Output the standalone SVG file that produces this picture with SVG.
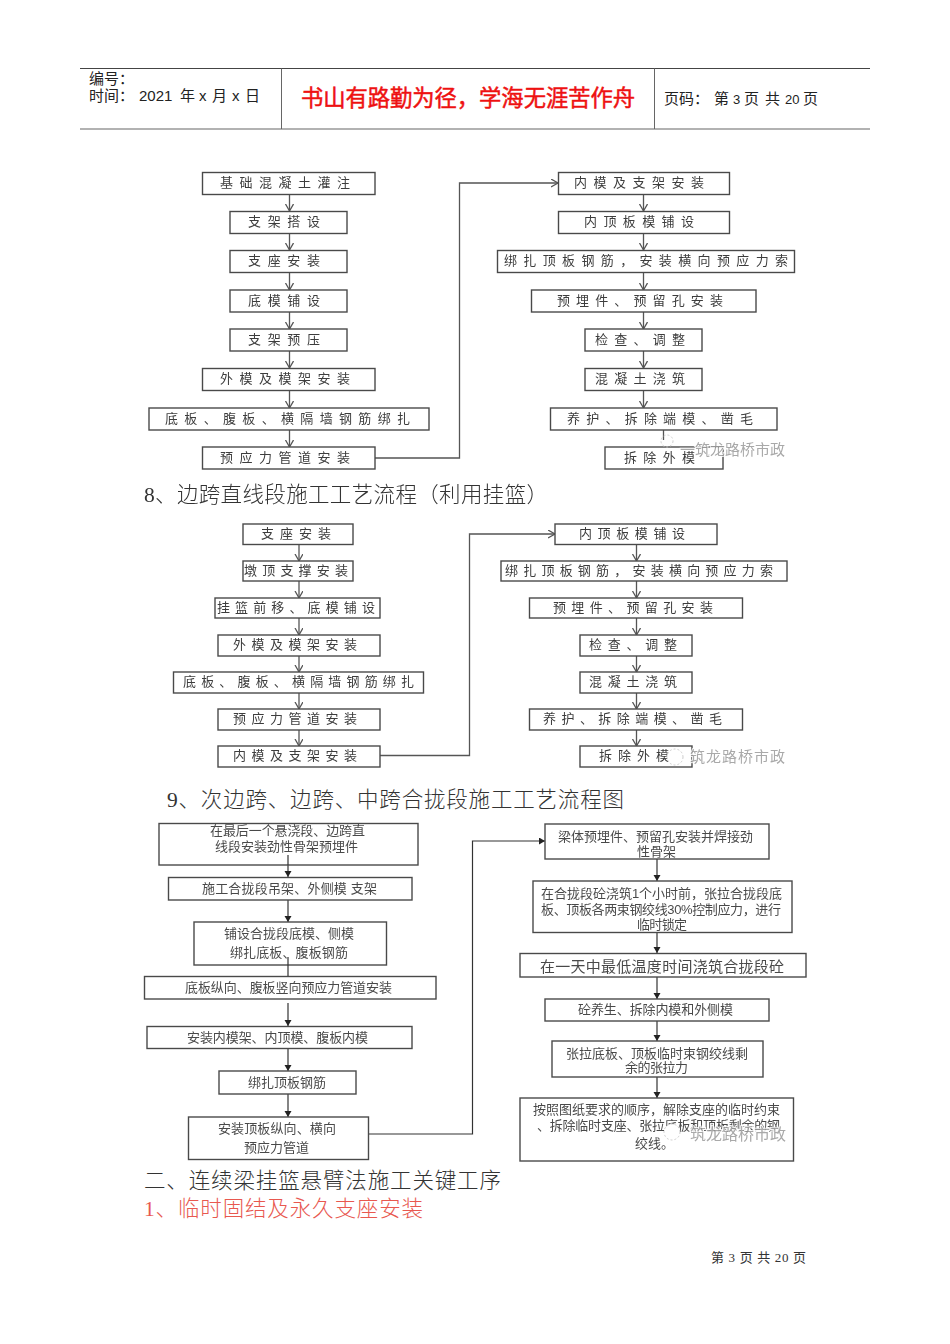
<svg xmlns="http://www.w3.org/2000/svg" width="950" height="1344" viewBox="0 0 950 1344">
<style>
text{font-family:"Liberation Sans","Noto Sans CJK SC",sans-serif}
.b{fill:#fff;stroke:#4a4a4a;stroke-width:1.4}
.t{font-size:13px;fill:#3c3c3c;dominant-baseline:central;transform:translateY(-1px)}
.t3{font-size:13px;fill:#4a4a4a;dominant-baseline:central;transform:translateY(-1px)}
.c{fill:none;stroke:#555;stroke-width:1.3}
.d{fill:none;stroke:#333;stroke-width:1.2}
.h{font-family:"Liberation Serif","Noto Sans CJK SC",serif;font-size:21.5px;fill:#333;font-weight:300}
.hd{font-size:15px;fill:#222}
.wm{fill:#9a9a9a;font-size:15px;stroke:#fff;stroke-width:2px;paint-order:stroke;opacity:.85}
</style>
<defs>
<marker id="open" markerWidth="10" markerHeight="10" refX="7" refY="4" orient="auto" markerUnits="userSpaceOnUse"><path d="M0 0L7 4L0 8" fill="none" stroke="#555" stroke-width="1.3"/></marker>
<marker id="fill" markerWidth="8" markerHeight="8" refX="6" refY="3.5" orient="auto" markerUnits="userSpaceOnUse"><path d="M0 0L6 3.5L0 7Z" fill="#222"/></marker>
<filter id="soft" x="-2%" y="-2%" width="104%" height="104%"><feGaussianBlur stdDeviation="0.3"/></filter>
</defs>
<rect width="950" height="1344" fill="#fff"/>

<g id="header">
<path d="M80 68.500H870" stroke="#444" stroke-width="1"/>
<path d="M80 129H870" stroke="#999" stroke-width="1.5"/>
<path d="M281.500 68.500V129M654.500 68.500V129" stroke="#666" stroke-width="1"/>
<text class="hd" x="89" y="84">编号：</text>
<text class="hd" y="101"><tspan x="89">时间：</tspan><tspan x="139">2021</tspan><tspan x="180">年</tspan><tspan x="199">x</tspan><tspan x="212">月</tspan><tspan x="232">x</tspan><tspan x="245">日</tspan></text>
<text x="301" y="106" font-size="22.300" fill="#ee1111" stroke="#ee1111" stroke-width=".5" textLength="334">书山有路勤为径，学海无涯苦作舟</text>
<text class="hd" y="104"><tspan x="664">页码：</tspan><tspan x="714">第</tspan><tspan x="733" font-size="13">3</tspan><tspan x="744">页</tspan><tspan x="765">共</tspan><tspan x="785" font-size="13">20</tspan><tspan x="803">页</tspan></text>
</g>

<g id="connectors" filter="url(#soft)">
<path class="c" marker-end="url(#open)" d="M289.500 194V211"/><path class="c" marker-end="url(#open)" d="M289.500 233V250"/><path class="c" marker-end="url(#open)" d="M289.500 272V290"/><path class="c" marker-end="url(#open)" d="M289.500 312V329"/><path class="c" marker-end="url(#open)" d="M289.500 351V368"/><path class="c" marker-end="url(#open)" d="M289.500 390V408"/><path class="c" marker-end="url(#open)" d="M289.500 430V447"/>
<path class="c" marker-end="url(#open)" d="M375 458H459.500V183H558"/>
<path class="c" marker-end="url(#open)" d="M643.500 194V211"/><path class="c" marker-end="url(#open)" d="M643.500 233V250"/><path class="c" marker-end="url(#open)" d="M643.500 272V290"/><path class="c" marker-end="url(#open)" d="M643.500 312V329"/><path class="c" marker-end="url(#open)" d="M643.500 351V368"/><path class="c" marker-end="url(#open)" d="M643.500 390V408"/><path class="c" d="M663.500 430V440"/>
<path class="c" marker-end="url(#open)" d="M299 544.500V561"/><path class="c" marker-end="url(#open)" d="M299 581V598"/><path class="c" marker-end="url(#open)" d="M299 618V635"/><path class="c" marker-end="url(#open)" d="M299 656V672"/><path class="c" marker-end="url(#open)" d="M299 693V709"/><path class="c" marker-end="url(#open)" d="M299 730V746"/>
<path class="c" marker-end="url(#open)" d="M380 755.500H469.500V534H555"/>
<path class="c" marker-end="url(#open)" d="M636.500 544V561"/><path class="c" marker-end="url(#open)" d="M636.500 581V598"/><path class="c" marker-end="url(#open)" d="M636.500 618V635"/><path class="c" marker-end="url(#open)" d="M636.500 656V672"/><path class="c" marker-end="url(#open)" d="M636.500 693V709"/><path class="c" marker-end="url(#open)" d="M636.500 730V746"/>
<path class="d" marker-end="url(#fill)" d="M288 865V877"/><path class="d" marker-end="url(#fill)" d="M288 900V922"/><path class="d" marker-end="url(#fill)" d="M288 1003V1026"/><path class="d" marker-end="url(#fill)" d="M288 1048V1071"/><path class="d" marker-end="url(#fill)" d="M288 1094V1117"/>
<path class="d" marker-end="url(#fill)" d="M368 1134H472.500V841H545"/>
<path class="d" marker-end="url(#fill)" d="M657 859V881"/><path class="d" marker-end="url(#fill)" d="M657 932V953"/><path class="d" marker-end="url(#fill)" d="M657 977V999"/><path class="d" marker-end="url(#fill)" d="M657 1021V1041"/><path class="d" marker-end="url(#fill)" d="M657 1077V1098"/>
</g>

<g id="flow1" filter="url(#soft)">
<g id="a1"><rect class="b" x="202.500" y="172.500" width="172.500" height="22"/><text class="t" x="220" y="183" textLength="130">基础混凝土灌注</text></g>
<g id="a2"><rect class="b" x="230" y="211.500" width="117" height="22"/><text class="t" x="248" y="222" textLength="72">支架搭设</text></g>
<g id="a3"><rect class="b" x="230" y="250.500" width="117" height="22"/><text class="t" x="248" y="261" textLength="72">支座安装</text></g>
<g id="a4"><rect class="b" x="230" y="290" width="117" height="22"/><text class="t" x="248" y="301" textLength="72">底模铺设</text></g>
<g id="a5"><rect class="b" x="230" y="329" width="117" height="22"/><text class="t" x="248" y="340" textLength="72">支架预压</text></g>
<g id="a6"><rect class="b" x="202.500" y="368.500" width="172.500" height="22"/><text class="t" x="220" y="379" textLength="130">外模及模架安装</text></g>
<g id="a7"><rect class="b" x="149" y="408" width="280" height="22"/><text class="t" x="165" y="419" textLength="245">底板、腹板、横隔墙钢筋绑扎</text></g>
<g id="a8"><rect class="b" x="202.500" y="447" width="172.500" height="22"/><text class="t" x="220" y="458" textLength="130">预应力管道安装</text></g>
<g id="b1"><rect class="b" x="558.500" y="172.500" width="171" height="22"/><text class="t" x="574" y="183" textLength="130">内模及支架安装</text></g>
<g id="b2"><rect class="b" x="558.500" y="211.500" width="171" height="22"/><text class="t" x="584" y="222" textLength="110">内顶板模铺设</text></g>
<g id="b3"><rect class="b" x="497.500" y="250.500" width="297" height="22"/><text class="t" x="504" y="261" textLength="284">绑扎顶板钢筋，安装横向预应力索</text></g>
<g id="b4"><rect class="b" x="531.500" y="290" width="224.500" height="22"/><text class="t" x="557" y="301" textLength="166">预埋件、预留孔安装</text></g>
<g id="b5"><rect class="b" x="585" y="329" width="117" height="22"/><text class="t" x="595" y="340" textLength="90">检查、调整</text></g>
<g id="b6"><rect class="b" x="585" y="368.500" width="117" height="22"/><text class="t" x="595" y="379" textLength="90">混凝土浇筑</text></g>
<g id="b7"><rect class="b" x="550.500" y="408" width="226.500" height="22"/><text class="t" x="567" y="419" textLength="186">养护、拆除端模、凿毛</text></g>
<g id="b8"><rect class="b" x="605" y="447" width="118" height="22"/><text class="t" x="624" y="458" textLength="71">拆除外模</text></g>
</g>
<text id="wm1" class="wm" x="680" y="455" textLength="105">一筑龙路桥市政</text>
<circle cx="667" cy="441" r="6" fill="none" stroke="#ccc" stroke-dasharray="2 2"/>

<text id="title8" class="h" x="144" y="502" textLength="404">8、边跨直线段施工工艺流程（利用挂篮）</text>

<g id="flow2" filter="url(#soft)">
<g id="c1"><rect class="b" x="243" y="524" width="110" height="20.500"/><text class="t" x="261" y="534" textLength="70">支座安装</text></g>
<g id="c2"><rect class="b" x="243" y="561" width="110" height="20"/><text class="t" x="244" y="571" textLength="104">墩顶支撑安装</text></g>
<g id="c3"><rect class="b" x="215" y="598" width="165" height="20"/><text class="t" x="217" y="608" textLength="158">挂篮前移、底模铺设</text></g>
<g id="c4"><rect class="b" x="218" y="635" width="162" height="21"/><text class="t" x="233" y="645" textLength="124">外模及模架安装</text></g>
<g id="c5"><rect class="b" x="173.500" y="672" width="250" height="21"/><text class="t" x="183" y="682" textLength="231">底板、腹板、横隔墙钢筋绑扎</text></g>
<g id="c6"><rect class="b" x="218" y="709" width="162" height="21"/><text class="t" x="233" y="719" textLength="124">预应力管道安装</text></g>
<g id="c7"><rect class="b" x="218" y="746" width="162" height="21"/><text class="t" x="233" y="756" textLength="124">内模及支架安装</text></g>
<g id="d1"><rect class="b" x="555" y="524" width="162" height="20.500"/><text class="t" x="579" y="534" textLength="106">内顶板模铺设</text></g>
<g id="d2"><rect class="b" x="501" y="561" width="286" height="20"/><text class="t" x="505" y="571" textLength="268">绑扎顶板钢筋，安装横向预应力索</text></g>
<g id="d3"><rect class="b" x="529.500" y="598" width="213" height="20"/><text class="t" x="553" y="608" textLength="160">预埋件、预留孔安装</text></g>
<g id="d4"><rect class="b" x="580" y="635" width="112" height="21"/><text class="t" x="589" y="645" textLength="88">检查、调整</text></g>
<g id="d5"><rect class="b" x="580" y="672" width="112" height="21"/><text class="t" x="589" y="682" textLength="88">混凝土浇筑</text></g>
<g id="d6"><rect class="b" x="529.500" y="709" width="213" height="21"/><text class="t" x="543" y="719" textLength="179">养护、拆除端模、凿毛</text></g>
<g id="d7"><rect class="b" x="580" y="746" width="112" height="21"/><text class="t" x="599" y="756" textLength="70">拆除外模</text></g>
</g>
<circle cx="675" cy="757" r="8" fill="#fff" stroke="#ccc" stroke-dasharray="2 2"/>
<text id="wm2" class="wm" x="690" y="762" textLength="95">筑龙路桥市政</text>

<text id="title9" class="h" x="167" y="807" textLength="457">9、次边跨、边跨、中跨合拢段施工工艺流程图</text>

<g id="flow3" filter="url(#soft)">
<g id="e1"><rect class="b" x="159" y="823.500" width="259" height="41.500"/><text class="t3" x="210" y="831" textLength="155">在最后一个悬浇段、边跨直</text><text class="t3" x="215" y="847" textLength="143">线段安装劲性骨架预埋件</text><path class="d" d="M288 855V865"/></g>
<g id="e2"><rect class="b" x="168.500" y="877.500" width="243.500" height="22.500"/><text class="t3" x="202" y="889" textLength="175">施工合拢段吊架、外侧模 支架</text></g>
<g id="e3"><rect class="b" x="194" y="922" width="192.500" height="43"/><text class="t3" x="224" y="934" textLength="130">铺设合拢段底模、侧模</text><text class="t3" x="230" y="953" textLength="118">绑扎底板、腹板钢筋</text><path class="d" d="M288 957V965"/></g>
<g id="e4"><rect class="b" x="144.500" y="976.500" width="291.500" height="22.500"/><text class="t3" x="185" y="988" textLength="207">底板纵向、腹板竖向预应力管道安装</text><path class="d" d="M288 965V976"/></g>
<g id="e5"><rect class="b" x="147" y="1026.500" width="265" height="22"/><text class="t3" x="187" y="1038" textLength="181">安装内模架、内顶模、腹板内模</text></g>
<g id="e6"><rect class="b" x="219" y="1071" width="137" height="23"/><text class="t3" x="248" y="1083" textLength="78">绑扎顶板钢筋</text></g>
<g id="e7"><rect class="b" x="188.500" y="1117" width="180" height="42.500"/><text class="t3" x="218" y="1129" textLength="118">安装顶板纵向、横向</text><text class="t3" x="244" y="1148" textLength="65">预应力管道</text></g>
<g id="f1"><rect class="b" x="545" y="824" width="224" height="35"/><text class="t3" x="558" y="837" textLength="195">梁体预埋件、预留孔安装并焊接劲</text><text class="t3" x="637" y="852">性骨架</text></g>
<g id="f2"><rect class="b" x="533" y="881" width="259" height="51.500"/><text class="t3" x="541" y="894" textLength="241">在合拢段砼浇筑1个小时前，张拉合拢段底</text><text class="t3" x="541" y="910" textLength="240">板、顶板各两束钢绞线30%控制应力，进行</text><text class="t3" x="637" y="925" textLength="50">临时锁定</text></g>
<g id="f3"><rect class="b" x="520" y="953.500" width="286" height="23.500"/><text class="t3" style="font-size:15px" x="540" y="967" textLength="244">在一天中最低温度时间浇筑合拢段砼</text></g>
<g id="f4"><rect class="b" x="545" y="999" width="224" height="22"/><text class="t3" x="578" y="1010" textLength="155">砼养生、拆除内模和外侧模</text></g>
<g id="f5"><rect class="b" x="552" y="1041" width="211" height="36"/><text class="t3" x="566" y="1054" textLength="182">张拉底板、顶板临时束钢绞线剩</text><text class="t3" x="625" y="1068" textLength="63">余的张拉力</text></g>
<g id="f6"><rect class="b" x="520" y="1098" width="273.500" height="63"/><text class="t3" x="533" y="1110" textLength="247">按照图纸要求的顺序，解除支座的临时约束</text><text class="t3" x="537" y="1126" textLength="243">、拆除临时支座、张拉底板和顶板剩余的钢</text><text class="t3" x="635" y="1144">绞线。</text></g>
</g>
<circle cx="672" cy="1132" r="8" fill="#fff" stroke="#ccc" stroke-dasharray="2 2"/>
<text id="wm3" class="wm" style="font-size:16px" x="690" y="1140" textLength="96">筑龙路桥市政</text>

<text id="title2" class="h" x="144" y="1188" textLength="357">二、连续梁挂篮悬臂法施工关键工序</text>
<text id="title1" class="h" x="144" y="1216" textLength="279" style="fill:#e8584f">1、临时固结及永久支座安装</text>
<text id="footer" x="711" y="1262" font-size="13" fill="#333" textLength="95" style="font-family:'Liberation Serif','Noto Sans CJK SC',serif">第 3 页 共 20 页</text>
</svg>
